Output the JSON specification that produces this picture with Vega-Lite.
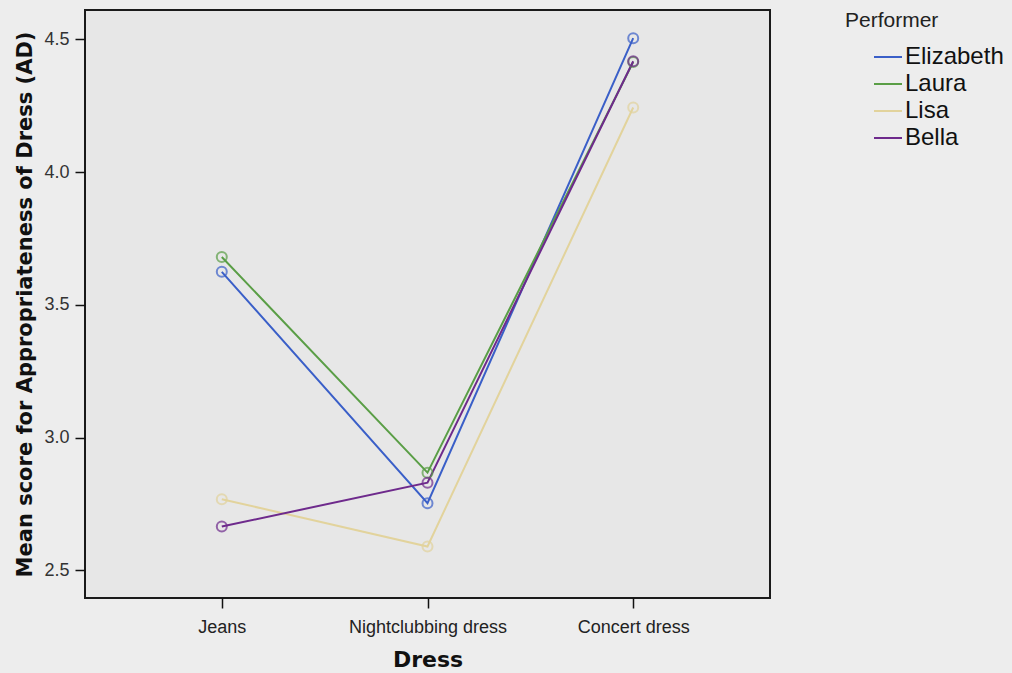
{
  "$schema": "https://vega.github.io/schema/vega-lite/v6.json",
  "width": 685,
  "height": 588,
  "autosize": {"type": "none"},
  "padding": {"left": 85, "top": 10, "right": 242, "bottom": 75},
  "background": "#ededed",
  "config": {
    "view": {"stroke": "#1a1a1a", "strokeWidth": 2, "fill": "#e7e7e7"},
    "font": "Liberation Sans"
  },
  "data": {
    "values": [
      {"Dress": "Jeans", "Performer": "Elizabeth", "Score": 3.624},
      {"Dress": "Nightclubbing dress", "Performer": "Elizabeth", "Score": 2.753},
      {"Dress": "Concert dress", "Performer": "Elizabeth", "Score": 4.504},
      {"Dress": "Jeans", "Performer": "Laura", "Score": 3.68},
      {"Dress": "Nightclubbing dress", "Performer": "Laura", "Score": 2.868},
      {"Dress": "Concert dress", "Performer": "Laura", "Score": 4.414},
      {"Dress": "Jeans", "Performer": "Lisa", "Score": 2.768},
      {"Dress": "Nightclubbing dress", "Performer": "Lisa", "Score": 2.59},
      {"Dress": "Concert dress", "Performer": "Lisa", "Score": 4.243},
      {"Dress": "Jeans", "Performer": "Bella", "Score": 2.665},
      {"Dress": "Nightclubbing dress", "Performer": "Bella", "Score": 2.83},
      {"Dress": "Concert dress", "Performer": "Bella", "Score": 4.417}
    ]
  },
  "encoding": {
    "x": {
      "field": "Dress", "type": "ordinal",
      "sort": ["Jeans", "Nightclubbing dress", "Concert dress"],
      "scale": {"type": "point", "padding": 0.665},
      "axis": {
        "title": "Dress", "titleFont": "DejaVu Sans", "titleFontSize": 22, "titleFontWeight": "bold", "titleColor": "#111",
        "titlePadding": 13,
        "labelAngle": 0, "labelFontSize": 18, "labelColor": "#222", "labelPadding": 10,
        "domain": false, "ticks": true, "tickColor": "#111", "tickSize": 10, "tickWidth": 1.5, "grid": false
      }
    },
    "y": {
      "field": "Score", "type": "quantitative",
      "scale": {"domain": [2.396, 4.61], "nice": false, "zero": false},
      "axis": {
        "title": "Mean score for Appropriateness of Dress (AD)", "titleFont": "DejaVu Sans", "titleFontSize": 21, "titleFontWeight": "bold", "titleColor": "#111",
        "titlePadding": 8,
        "values": [2.5, 3.0, 3.5, 4.0, 4.5], "format": ".1f",
        "labelFontSize": 18, "labelColor": "#333", "labelPadding": 6,
        "domain": false, "ticks": true, "tickColor": "#111", "tickSize": 10, "tickWidth": 1.5, "grid": false
      }
    },
    "color": {
      "field": "Performer", "type": "nominal",
      "sort": ["Elizabeth", "Laura", "Lisa", "Bella"],
      "scale": {"domain": ["Elizabeth", "Laura", "Lisa", "Bella"], "range": ["#3a5fc8", "#5a9e46", "#e2d39c", "#6e2a8c"]},
      "legend": {
        "orient": "none", "legendX": 760, "legendY": 0,
        "title": "Performer", "titleFontSize": 21, "titleFontWeight": "normal", "titleColor": "#222",
        "labelFontSize": 24, "labelColor": "#111", "labelOffset": 2,
        "symbolType": "stroke", "symbolSize": 784, "symbolStrokeWidth": 2, "symbolOffset": 28,
        "rowPadding": 0, "offset": 0, "padding": 0, "titlePadding": 11
      }
    }
  },
  "layer": [
    {"mark": {"type": "line", "strokeWidth": 2}},
    {"mark": {"type": "point", "filled": false, "size": 100, "strokeWidth": 2}, "encoding": {"color": {"field": "Performer", "type": "nominal", "legend": null}}}
  ]
}
